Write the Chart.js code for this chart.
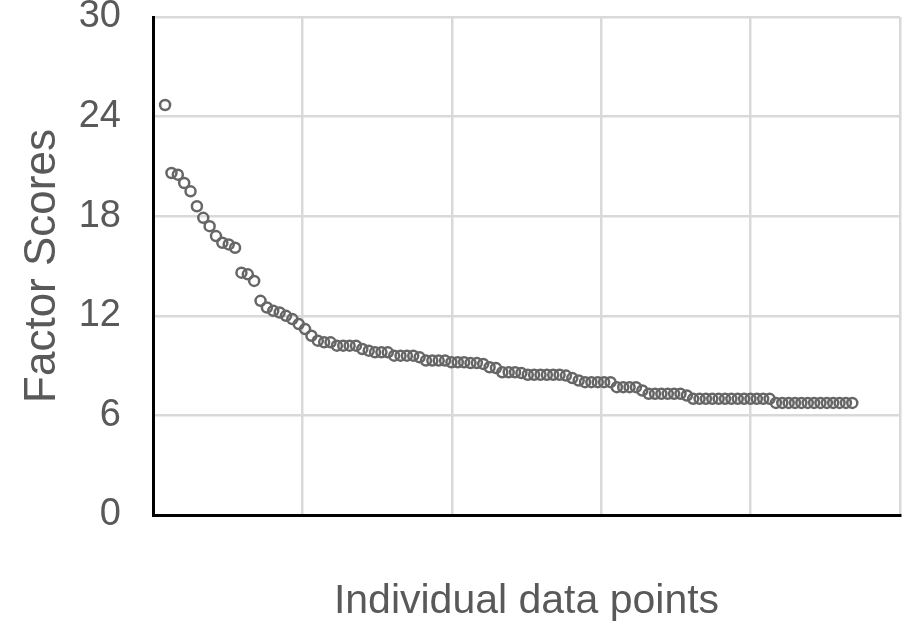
<!DOCTYPE html>
<html>
<head>
<meta charset="utf-8">
<script src="https://cdn.jsdelivr.net/npm/chart.js@4"></script>
<style>
  html, body { margin: 0; padding: 0; background: #fff; }
  #wrap { width: 911px; height: 626px; }
</style>
</head>
<body>
<div id="wrap"><canvas id="scoreChart" width="911" height="626"></canvas></div>
<script>
// Factor scores, sorted
const factorScores = [
  24.7, 20.6, 20.5, 20.0, 19.5, 18.6, 17.9, 17.4, 16.8, 16.4,
  16.3, 16.1, 14.6, 14.5, 14.1, 12.9, 12.5, 12.3, 12.2, 12.0,
  11.8, 11.5, 11.2, 10.8, 10.5, 10.4, 10.4, 10.2, 10.2, 10.2,
  10.2, 10.0, 9.9, 9.8, 9.8, 9.8, 9.6, 9.6, 9.6, 9.6,
  9.5, 9.3, 9.3, 9.3, 9.3, 9.2, 9.2, 9.2, 9.15, 9.15,
  9.1, 8.9, 8.85, 8.6, 8.6, 8.6, 8.55, 8.45, 8.45, 8.45,
  8.45, 8.45, 8.45, 8.4, 8.25, 8.1, 8.0, 8.0, 8.0, 8.0,
  8.0, 7.7, 7.7, 7.7, 7.7, 7.5, 7.3, 7.3, 7.3, 7.3,
  7.3, 7.3, 7.2, 7.0, 7.0, 7.0, 7.0, 7.0, 7.0, 7.0,
  7.0, 7.0, 7.0, 7.0, 7.0, 7.0, 6.75, 6.75, 6.75, 6.75,
  6.75, 6.75, 6.75, 6.75, 6.75, 6.75, 6.75, 6.75, 6.75
];
const pointIndex = factorScores.map((v, i) => i + 1);
const yTicks = [0, 6, 12, 18, 24, 30];

const xMin = -0.9;
const xMax = 116.5;

const textColor = '#595959';
const gridColor = '#d9d9d9';

new Chart(document.getElementById('scoreChart'), {
    type: 'scatter',
    data: {
        datasets: [{
            label: 'Factor Scores',
            data: pointIndex.map((x, i) => ({ x: x, y: factorScores[i] })),
            pointStyle: 'circle',
            pointRadius: 5,
            pointBorderWidth: 2.5,
            pointBorderColor: '#666666',
            pointBackgroundColor: 'rgba(255,255,255,0)'
        }]
    },
    options: {
        responsive: false,
        animation: false,
        layout: { padding: { top: 17, right: 11, left: 0, bottom: 0 } },
        plugins: {
            legend: { display: false },
            tooltip: { enabled: false }
        },
        scales: {
            x: {
                type: 'linear',
                min: xMin,
                max: xMax,
                afterBuildTicks: (scale) => {
                    // five equal columns like the original grid
                    scale.ticks = [0, 1, 2, 3, 4, 5].map(k => ({ value: xMin + k * (xMax - xMin) / 5 }));
                },
                afterFit: (scale) => { scale.height = 111; },
                ticks: { display: false },
                grid: { color: gridColor, lineWidth: 2.5, drawTicks: false },
                border: { display: true, color: '#000', width: 3 },
                title: {
                    display: true,
                    text: 'Individual data points',
                    color: textColor,
                    font: { family: 'Liberation Sans', size: 41 },
                    padding: { top: 0, bottom: 0 }
                }
            },
            y: {
                min: 0,
                max: 30,
                afterBuildTicks: (scale) => {
                    scale.ticks = yTicks.map(v => ({ value: v }));
                },
                afterFit: (scale) => {
                    scale.width = 153;
                    // let the top label hang over the padding instead of shrinking the plot
                    scale.paddingTop = 0;
                    scale.paddingBottom = 0;
                },
                ticks: {
                    color: textColor,
                    padding: 32,
                    font: { family: 'Liberation Sans', size: 38 }
                },
                grid: { color: gridColor, lineWidth: 2.5, drawTicks: false },
                border: { display: true, color: '#000', width: 3 },
                title: {
                    display: true,
                    text: 'Factor Scores',
                    color: textColor,
                    font: { family: 'Liberation Sans', size: 44 },
                    padding: { top: 16, bottom: 0 }
                }
            }
        }
    }
});
</script>
</body>
</html>
